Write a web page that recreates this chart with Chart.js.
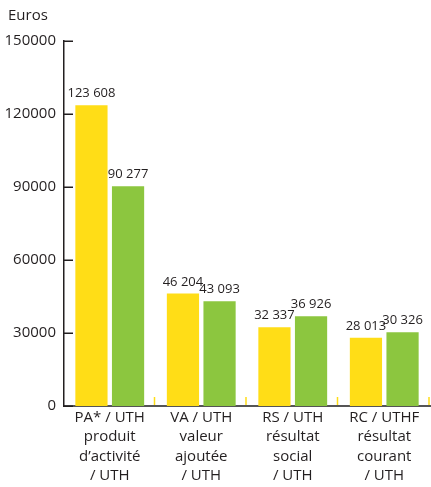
<!DOCTYPE html>
<html>
<head>
<meta charset="utf-8">
<script src="https://cdn.jsdelivr.net/npm/chart.js@4"></script>
<style>
  body { margin: 0; background: #fff; }
</style>
</head>
<body>
<canvas id="myChart" width="431" height="487"></canvas>
<script>
const categories = [
    ['PA* / UTH', 'produit', 'd’activité', '/ UTH'],
    ['VA / UTH', 'valeur', 'ajoutée', '/ UTH'],
    ['RS / UTH', 'résultat', 'social', '/ UTH'],
    ['RC / UTHF', 'résultat', 'courant', '/ UTH']
];
const yellowValues = [123608, 46204, 32337, 28013];
const greenValues = [90277, 43093, 36926, 30326];
const yTicks = [0, 30000, 60000, 90000, 120000, 150000];
const unitLabel = 'Euros';

const yellow = '#FFDD17';
const green = '#8CC63F';
const textColor = '#231F20';
const fontFamily = '"Open Sans", "Noto Sans", sans-serif';

function formatValue(v) {
    return String(v).replace(/\B(?=(\d{3})+(?!\d))/g, ' ');
}

// euros label, inward y ticks, little yellow x ticks and the value labels
const extras = {
    id: 'extras',
    afterDraw(chart) {
        const c = chart.ctx;
        const area = chart.chartArea;
        const y = chart.scales.y;
        const x = chart.scales.x;

        c.save();
        c.fillStyle = textColor;
        c.font = '15px ' + fontFamily;
        c.textAlign = 'left';
        c.textBaseline = 'middle';
        c.fillText(unitLabel, 8, 16);

        c.strokeStyle = textColor;
        c.lineWidth = 1.5;
        yTicks.forEach(v => {
            const py = Math.round(y.getPixelForValue(v)) + 0.25;
            c.beginPath();
            c.moveTo(area.left, py);
            c.lineTo(area.left + 9, py);
            c.stroke();
        });

        const catWidth = x.width / categories.length;
        c.strokeStyle = yellow;
        c.lineWidth = 1.5;
        categories.forEach((cat, i) => {
            const px = x.getPixelForValue(i) + catWidth / 2 - 1;
            c.beginPath();
            c.moveTo(px, area.bottom - 9);
            c.lineTo(px, area.bottom - 1);
            c.stroke();
        });

        c.font = '13px ' + fontFamily;
        c.textAlign = 'center';
        c.textBaseline = 'alphabetic';
        chart.data.datasets.forEach((ds, i) => {
            chart.getDatasetMeta(i).data.forEach((bar, j) => {
                c.fillText(formatValue(ds.data[j]), bar.x, bar.y - 8);
            });
        });
        c.restore();
    }
};

const ctx = document.getElementById('myChart');

new Chart(ctx, {
    type: 'bar',
    data: {
        labels: categories,
        datasets: [{
            data: yellowValues,
            backgroundColor: yellow,
            categoryPercentage: 0.8,
            barPercentage: 0.88
        }, {
            data: greenValues,
            backgroundColor: green,
            categoryPercentage: 0.8,
            barPercentage: 0.88
        }]
    },
    options: {
        responsive: false,
        animation: false,
        layout: {
            padding: { top: 41, right: 1, bottom: 0, left: 0 }
        },
        scales: {
            x: {
                grid: { display: false, drawTicks: false },
                border: { display: true, color: '#555555', width: 2 },
                ticks: {
                    color: textColor,
                    padding: 2,
                    maxRotation: 0,
                    autoSkip: false,
                    font: { family: fontFamily, size: 15, lineHeight: 1.29 }
                },
                afterFit(scale) { scale.height = 81; }
            },
            y: {
                min: 0,
                max: 150000,
                grid: { display: false, drawTicks: false },
                border: { display: true, color: textColor, width: 1.5 },
                ticks: {
                    color: textColor,
                    padding: 8,
                    font: { family: fontFamily, size: 15 },
                    callback: v => String(v)
                },
                afterBuildTicks(scale) {
                    scale.ticks = yTicks.map(v => ({ value: v }));
                },
                afterFit(scale) { scale.width = 64; }
            }
        },
        plugins: {
            legend: { display: false },
            tooltip: { enabled: false }
        }
    },
    plugins: [extras]
});
</script>
</body>
</html>
